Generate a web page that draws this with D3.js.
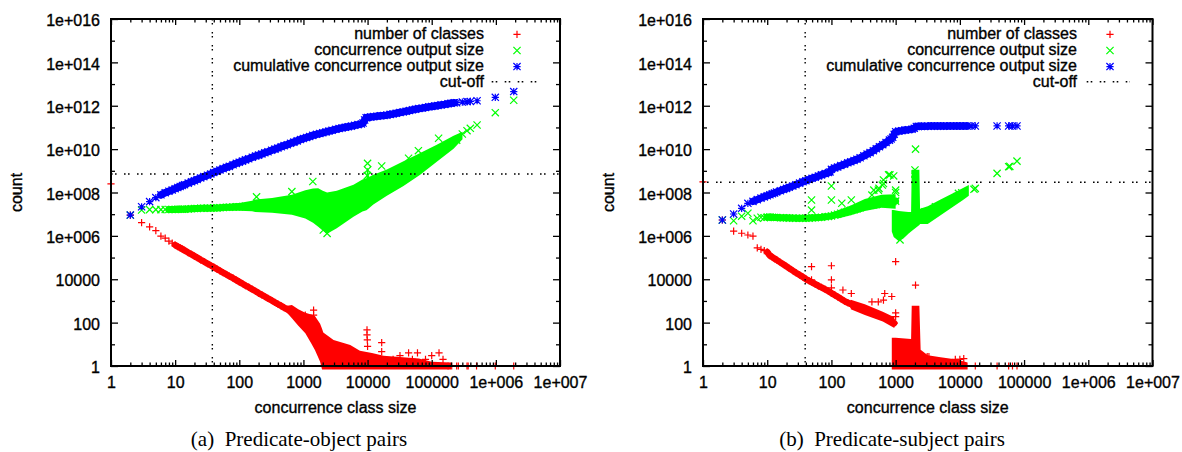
<!DOCTYPE html>
<html>
<head>
<meta charset="utf-8">
<script src="https://cdn.jsdelivr.net/npm/d3@7"></script>
<style>
  html, body { margin: 0; padding: 0; background: #fff; }
  svg { display: block; }
  .sans { font-family: 'Liberation Sans', Arial, Helvetica, sans-serif; font-size: 16px; fill: #000; stroke: #000; stroke-width: 0.35px; }
</style>
</head>
<body>
<svg id="chart" width="1182" height="452"></svg>
<script>
// ---------------- axis ticks ----------------
const xTickValues = [1, 10, 100, 1000, 10000, 100000, 1e6, 1e7];
const xTickLabels = ["1", "10", "100", "1000", "10000", "100000", "1e+006", "1e+007"];
const yTickValues = [1, 100, 1e4, 1e6, 1e8, 1e10, 1e12, 1e14, 1e16];
const yTickLabels = ["1", "100", "10000", "1e+006", "1e+008", "1e+010", "1e+012", "1e+014", "1e+016"];
const yMinorValues = [10, 1e3, 1e5, 1e7, 1e9, 1e11, 1e13, 1e15];
const legendLabels = ["number of classes", "concurrence output size", "cumulative concurrence output size", "cut-off"];

// ---------------- (a) predicate-object pairs ----------------
const aCutX = 38, aCutY = 7.1e8;

// number of classes per class size [size, count]: main sequence, then scattered sizes
const aClasses = [
  [1,2.5e8],[2,9e6],[3,4.1e6],[4,2.6e6],[5,1.74e6],[6,9.8e5],[7,7.8e5],[8,5.75e5],[9,4.6e5],[10,3.8e5],
  [11,3.2e5],[12,2.8e5],[13,2.45e5],[14,2.15e5],[16,1.7e5],[18,1.4e5],[20,1.17e5],[22,1e5],[25,7.9e4],[28,6.6e4],
  [32,5.2e4],[36,4.3e4],[40,3.6e4],[45,2.95e4],[50,2.45e4],[56,2e4],[63,1.66e4],[70,1.38e4],[80,1.12e4],[90,9.1e3],
  [100,7.6e3],[112,6.3e3],[125,5.1e3],[140,4.3e3],[160,3.4e3],[180,2.8e3],[200,2.3e3],[225,1.9e3],[250,1.6e3],[280,1.3e3],
  [320,1050],[360,850],[400,720],[450,590],[500,490],[560,410],[630,330],[710,270],[800,220],[900,180],[1000,150]
];
const aClassesScatter = [
  [640,380],[690,270],[1070,220],[1440,380],[1440,220],[1450,110],[1500,65],
  [9800,46],[9800,27],[9900,16],[10000,8],[16600,12],[16600,4.6],
  [25000,2],[32000,3],[43600,4],[50000,2],[60000,4],[80000,2],[100000,3],[130000,4],[150000,2],[180000,1],
  [2.05e5,1],[2.45e5,1],[2.6e5,1],[3.55e5,1],[3.7e5,1],[5e5,1],[9.8e5,1],[1.9e6,1]
];
// dense part of the class counts [size, low, high]
const aClassesCloud = [
  [560,280,600],[661,158,646],[832,71,417],[1070,32,288],[1320,11.2,240],[1510,5.5,200],[1820,1.58,89],
  [1950,0.69,52],[2040,0.69,35.5],[2950,0.69,15.8],[5370,0.69,9.3],[7590,0.69,5],[11700,0.69,4],
  [17800,0.69,3],[31600,0.69,2.6],[63100,0.69,2.2],[100000,0.69,1.58],[200000,0.69,1.45]
];

// concurrence output size [size, output]
const aOutput = [
  [2,9.1e6],[3,1.55e7],[4,1.62e7],[5,1.62e7],[6,1.62e7],[7,1.66e7],[8,1.66e7],[9,1.66e7],[10,1.66e7],
  [11,1.7e7],[12,1.7e7],[13,1.7e7],[14,1.7e7],[16,1.74e7],[18,1.78e7],[20,1.82e7],[22,1.82e7],[25,1.86e7],[28,1.86e7],
  [32,1.9e7],[36,1.9e7],[40,1.95e7],[45,1.95e7],[50,2e7],[56,2.04e7],[63,2.09e7],[70,2.09e7],[80,2.14e7],[90,2.19e7],
  [100,2.19e7],[112,2.24e7],[125,2.29e7],[140,2.34e7],[160,2.4e7],[180,2.45e7],[200,2.5e7],[250,2.6e7],[320,2.7e7],
  [400,2.75e7],[500,2.75e7],[630,2.7e7],[800,2.6e7],[1000,2.5e7]
];
const aOutputScatter = [
  [186,6.3e7],[660,1.1e8],[1400,3.2e8],[2040,1.86e6],[2340,1.3e6],
  [9900,6e8],[10000,1.1e9],[10000,2.2e9],[16600,1.66e9],[43600,3.8e9],[62000,8.5e9],[128000,3.16e10],
  [2.45e5,2.6e10],[3.0e5,5e10],[3.55e5,7.1e10],[4.0e5,9.1e10],[5.1e5,1.3e11],[9.8e5,4.8e11],[1.9e6,1.8e12]
];
// dense part of the output sizes [size, low, high]
const aOutputCloud = [
  [63,1.48e7,2.82e7],[100,1.45e7,3.31e7],[158,1.38e7,4.17e7],[178,1.26e7,4.79e7],[324,1.17e7,5.62e7],
  [661,9.3e6,7.94e7],[1070,6.31e6,1.26e8],[1410,3.98e6,1.51e8],[1700,2.63e6,1.58e8],[2000,1.78e6,1.2e8],
  [2340,1.26e6,1e8],[3310,2.24e6,1.2e8],[6030,7.59e6,2.29e8],[8320,1.32e7,3.98e8],[9600,1.5e7,4.6e8],
  [9800,1.6e7,1.3e9],[10200,1.75e7,1.3e9],[10500,1.9e7,5.2e8],[12300,2.82e7,6.61e8],[20000,7.08e7,1.15e9],
  [36300,2e8,2.75e9],[66100,6.61e8,6.61e9],[120000,2.63e9,1.58e10],[219000,1.05e10,4.17e10],[302000,2.82e10,6.31e10]
];

// cumulative concurrence output size [size, total]
const aCumulative = [
  [2,9.1e6],[3,2.2e7],[4,3.8e7],[5,5.8e7],[6,7.8e7],[7,9.8e7],[8,1.15e8],[9,1.3e8],[10,1.5e8],[11,1.7e8],
  [12,1.9e8],[13,2.1e8],[14,2.3e8],[16,2.7e8],[18,3.1e8],[20,3.5e8],[22,4e8],[25,4.7e8],[28,5.4e8],[32,6.3e8],
  [36,7.2e8],[40,8.3e8],[45,9.6e8],[50,1.1e9],[56,1.26e9],[63,1.45e9],[70,1.6e9],[80,1.9e9],[90,2.2e9],[100,2.5e9],
  [112,2.8e9],[125,3.2e9],[140,3.6e9],[160,4.2e9],[180,4.8e9],[200,5.3e9],[225,6e9],[250,6.8e9],[280,7.6e9],[320,8.9e9],
  [360,1e10],[400,1.12e10],[450,1.29e10],[500,1.45e10],[560,1.6e10],[630,1.85e10],[710,2.1e10],[800,2.4e10],[900,2.75e10],
  [1000,3.1e10],[1120,3.45e10],[1250,3.8e10],[1400,4.3e10],[1600,4.8e10],[1800,5.2e10],[2000,5.7e10],[2250,6.2e10],
  [2500,6.8e10],[2800,7.4e10],[3200,8.2e10],[3600,8.9e10],[4000,9.5e10],[4500,1.02e11],[5000,1.08e11],[5600,1.15e11],
  [6300,1.25e11],[7100,1.35e11],[8000,1.45e11],[8500,1.6e11],[9000,2.2e11],[9500,2.8e11],[10000,2.9e11],[11200,3e11],
  [12500,3.15e11],[14000,3.3e11],[16000,3.45e11],[18000,3.55e11],[20000,3.7e11],[22500,4e11],[25000,4.2e11],
  [28000,4.5e11],[32000,4.9e11],[36000,5.2e11],[40000,5.6e11],[45000,6e11],[50000,6.5e11],[56000,6.9e11],
  [63000,7.4e11],[71000,7.8e11],[80000,8.3e11],[90000,8.9e11],[100000,9.3e11],[112000,9.8e11],[125000,1.02e12],
  [140000,1.1e12],[160000,1.15e12],[180000,1.23e12],[200000,1.3e12],[225000,1.38e12]
];
const aCumulativeScatter = [
  [245000,1.38e12],[300000,1.48e12],[355000,1.55e12],[400000,1.58e12],[510000,1.7e12],[980000,2.45e12],[1.9e6,4.5e12]
];

// ---------------- (b) predicate-subject pairs ----------------
const bCutX = 39, bCutY = 2.95e8;

const bClasses = [
  [1,3.1e8],[2,5.4e6],[3,1.66e6],[4,1.32e6],[5,1.1e6],[6,9.8e5],[7,2.8e5],[8,2.4e5],[9,2.1e5],[10,1.8e5],
  [11,1.23e5],[12,1.05e5],[13,8.9e4],[14,7.8e4],[16,6e4],[18,4.8e4],[20,3.9e4],[22,3.2e4],[25,2.5e4],[28,2e4],
  [32,1.58e4],[36,1.26e4],[40,1.02e4],[45,8.5e3],[50,7.1e3],[56,5.9e3],[63,4.9e3],[70,4.2e3],[80,3.4e3],[90,2.8e3],
  [100,2.3e3],[112,1.9e3],[125,1.55e3],[140,1.26e3],[160,980],[180,830],[200,720],[225,620],[250,525],[280,457],
  [320,390],[360,340],[400,300],[450,263],[500,234],[560,209],[630,186],[710,155],[800,129],[900,107],[950,95]
];
const bClassesScatter = [
  [49,3.8e4],[49,9.3e3],[100,4.2e4],[100,9.3e3],[100,4e3],[151,3.2e3],[204,2.2e3],[427,910],[537,910],
  [646,1100],[676,2200],[870,1600],[1000,6.5e4],[1000,280],[1000,190],[2040,5.4e3],
  [3100,2.7],[3300,2.7],[8500,2],[10000,2],[11500,2.2],[17400,1],[38000,1],[57500,1],[66000,1],[77600,1]
];
const bClassesTail = [[200,417,1120],[331,224,708],[631,112,316],[955,56,178]];
const bClassesBlob = [
  [871,0.69,20],[1000,0.69,20],[1740,0.69,17.8],[1780,0.69,603],[2340,0.69,603],[2450,0.69,5.6],
  [3160,0.69,3.16],[5010,0.69,2.51],[8910,0.69,2],[13200,0.69,1.45]
];

const bOutput = [
  [2,5.4e6],[3,5e6],[4,8.1e6],[5,1.1e7],[6,5e6],[7,6.5e6],[8,7.2e6],[9,6.9e6],[10,7.2e6],[11,7.4e6],
  [12,7.2e6],[13,7.1e6],[14,7.1e6],[16,6.9e6],[18,6.8e6],[20,6.8e6],[22,6.6e6],[25,6.6e6],[28,6.5e6],[32,6.5e6],
  [36,6.5e6],[40,6.5e6],[45,6.6e6],[50,6.8e6],[56,6.9e6],[63,7.1e6],[70,7.2e6],[80,7.6e6],[90,7.9e6],[100,8.3e6],
  [112,9.1e6],[125,1e7],[140,1.1e7],[160,1.23e7],[180,1.35e7],[200,1.48e7],[225,1.62e7],[250,1.78e7],[280,2e7],
  [320,2.3e7],[360,2.5e7],[400,2.6e7],[450,2.7e7],[500,2.8e7],[560,3.1e7],[630,3.3e7],[710,3.55e7],[800,3.7e7],
  [900,3.8e7],[1000,4e7]
];
const bOutputScatter = [
  [49,4.5e7],[49,1.55e7],[100,4.5e7],[100,2e8],[145,3.2e7],[204,4.5e7],[427,7.6e7],[457,1.29e8],[537,1.29e8],
  [550,1.55e8],[620,2.2e8],[646,2.6e8],[646,3.8e8],[776,6.5e8],[813,6.5e8],[933,5.8e8],[1000,1.29e8],[1000,1e8],
  [1170,6.5e5],[2000,4e8],[2000,7e8],[2000,1.1e9],[2040,1e10],[2880,1.29e7],[4170,2.2e7],[9100,6.5e7],
  [9500,9.1e7],[10700,9.8e7],[16600,1.4e8],[17400,1.55e8],[38000,7.6e8],[57500,1.55e9],[60000,1.6e9],[77600,2.8e9]
];
const bOutputBand = [[126,6.3e6,1.51e7],[200,8.9e6,2.5e7],[331,1.41e7,5e7],[603,2e7,7.9e7],[1000,1.78e7,8.3e7]];
const bOutputBlob = [
  [871,1.58e6,1.58e7],[933,8.9e5,1.58e7],[1120,5.6e5,1.41e7],[1320,7.6e5,1.32e7],[1580,1.26e6,1.26e7],
  [1740,1.58e6,1.26e7],[1780,1.66e6,1.12e9],[2340,3.16e6,1.12e9],[2400,3.55e6,1.78e7],[3160,3.55e6,2.3e7],
  [5010,8.9e6,4.7e7],[7940,2.24e7,9.5e7],[11200,4.5e7,1.62e8],[13800,7.1e7,2.2e8]
];

const bCumulative = [
  [2,5.4e6],[3,1.02e7],[4,1.86e7],[5,3.16e7],[6,3.9e7],[7,4.7e7],[8,5.5e7],[9,6.3e7],[10,7.1e7],[11,7.9e7],
  [12,8.7e7],[13,9.5e7],[14,1.05e8],[16,1.2e8],[18,1.38e8],[20,1.55e8],[22,1.74e8],[25,2e8],[28,2.3e8],[32,2.7e8],
  [36,3.1e8],[40,3.5e8],[45,4e8],[50,4.5e8],[56,5e8],[63,5.8e8],[70,6.5e8],[80,7.4e8],[90,8.3e8],[95,8.9e8],
  [100,1.17e9],[112,1.35e9],[125,1.5e9],[140,1.74e9],[160,2e9],[180,2.34e9],[200,2.6e9],[225,3e9],[250,3.4e9],
  [280,4e9],[320,4.9e9],[360,5.9e9],[400,6.9e9],[450,8.5e9],[500,1.05e10],[560,1.3e10],[630,1.6e10],[710,2e10],
  [800,2.6e10],[850,2.95e10],[900,3.5e10],[950,4.8e10],[1000,6.3e10],[1120,6.8e10],[1250,7.1e10],[1400,7.6e10],
  [1600,7.9e10],[1800,8.3e10],[1950,9.1e10],[2100,1.1e11],[2250,1.12e11],[2500,1.12e11],[2800,1.12e11],
  [3200,1.15e11],[3600,1.15e11],[4000,1.15e11],[4500,1.15e11],[5000,1.15e11],[5600,1.15e11],[6300,1.17e11],
  [7100,1.17e11],[8000,1.17e11],[9000,1.17e11],[10000,1.17e11],[11200,1.17e11],[12900,1.17e11]
];
const bCumulativeScatter = [[15000,1.17e11],[17400,1.17e11],[38000,1.17e11],[57500,1.17e11],[66000,1.17e11],[77600,1.17e11]];

// ---------------- drawing ----------------
const RED = "#ff0000", GREEN = "#00ff00", BLUE = "#0000ff";
const SERIF = "'Liberation Serif', 'Times New Roman', serif";
const plotTop = 19, plotBottom = 366;
const H = 3.6; // marker half-size

const symbols = {
  plus:  h => `M${-h},0H${h}M0,${-h}V${h}`,
  cross: h => `M${-h},${-h}L${h},${h}M${-h},${h}L${h},${-h}`,
  star:  h => `M${-h},0H${h}M0,${-h}V${h}M${-h},${-h}L${h},${h}M${-h},${h}L${h},${-h}`
};

const svg = d3.select("#chart");
svg.append("rect").attr("width", 1182).attr("height", 452).attr("fill", "#fff");

const panels = [
  { left: 111, right: 560,
    classes: aClasses, classesScatter: aClassesScatter, classClouds: [aClassesCloud],
    output: aOutput, outputScatter: aOutputScatter, outputClouds: [aOutputCloud],
    cumulative: aCumulative, cumulativeScatter: aCumulativeScatter,
    bandFrom: { classes: 10, output: 8, cumulative: 6 },
    cutX: aCutX, cutY: aCutY, caption: "(a)\u00a0 Predicate-object pairs", captionX: 299,
    legendTextX: 484, legendSymX: 517, legendLine: [491.7, 538.3], countX: 21.5 },
  { left: 703, right: 1152.5,
    classes: bClasses, classesScatter: bClassesScatter, classClouds: [bClassesTail, bClassesBlob],
    output: bOutput, outputScatter: bOutputScatter, outputClouds: [bOutputBand, bOutputBlob],
    cumulative: bCumulative, cumulativeScatter: bCumulativeScatter,
    bandFrom: { classes: 10, output: 10, cumulative: 6 },
    cutX: bCutX, cutY: bCutY, caption: "(b)\u00a0 Predicate-subject pairs", captionX: 892,
    legendTextX: 1077, legendSymX: 1110, legendLine: [1086.7, 1130], countX: 614 }
];

function styleAxis(g, withText) {
  g.select(".domain").remove();
  g.attr("font-size", null).attr("font-family", null);
  g.selectAll(".tick line").attr("stroke", "#000").attr("stroke-width", 1.3);
  if (withText) g.selectAll(".tick text").attr("class", "sans").attr("fill", null);
}

function drawPanel(p) {
  const g = svg.append("g");
  const x = d3.scaleLog().domain([1, 1e7]).range([p.left, p.right]);
  const y = d3.scaleLog().domain([1, 1e16]).range([plotBottom, plotTop]);

  const area = d3.area().x(d => x(d[0])).y0(d => y(d[1])).y1(d => y(d[2]));
  const line = d3.line().x(d => x(d[0])).y(d => y(d[1]));

  // a dense run of markers reads as one solid band
  const drawBand = (data, from, color, width) => {
    g.append("path").datum(data.filter(d => d[0] >= from)).attr("d", line)
      .attr("fill", "none").attr("stroke", color).attr("stroke-width", width)
      .attr("stroke-linejoin", "round").attr("stroke-linecap", "round");
  };
  const drawPoints = (data, color, shape) => {
    g.append("g").selectAll("path").data(data).join("path")
      .attr("transform", d => `translate(${x(d[0])},${y(d[1])})`)
      .attr("d", symbols[shape](H))
      .attr("fill", "none").attr("stroke", color).attr("stroke-width", 1.2);
  };

  // number of classes
  p.classClouds.forEach(c => g.append("path").datum(c).attr("d", area).attr("fill", RED));
  drawBand(p.classes, p.bandFrom.classes, RED, 6.5);
  drawPoints(p.classes, RED, "plus");
  drawPoints(p.classesScatter, RED, "plus");
  // concurrence output size
  p.outputClouds.forEach(c => g.append("path").datum(c).attr("d", area).attr("fill", GREEN));
  drawBand(p.output, p.bandFrom.output, GREEN, 7);
  drawPoints(p.output, GREEN, "cross");
  drawPoints(p.outputScatter, GREEN, "cross");
  // cumulative output size
  drawBand(p.cumulative, p.bandFrom.cumulative, BLUE, 7.5);
  drawPoints(p.cumulative, BLUE, "star");
  drawPoints(p.cumulativeScatter, BLUE, "star");

  // cut-off lines
  const dash = "1.6,2.4,1.6,7.4";
  g.append("line").attr("x1", x(p.cutX)).attr("x2", x(p.cutX)).attr("y1", plotTop).attr("y2", plotBottom)
    .attr("stroke", "#000").attr("stroke-width", 1.4).attr("stroke-dasharray", dash);
  g.append("line").attr("x1", p.left).attr("x2", p.right).attr("y1", y(p.cutY)).attr("y2", y(p.cutY))
    .attr("stroke", "#000").attr("stroke-width", 1.4).attr("stroke-dasharray", dash);

  // axes (ticks point inwards, mirrored on all four sides)
  const xMinor = [];
  for (let e = 0; e < 7; e++) for (let k = 2; k <= 9; k++) xMinor.push(k * Math.pow(10, e));

  g.append("g").attr("transform", `translate(0,${plotBottom})`)
    .call(d3.axisBottom(x).tickValues(xTickValues).tickFormat((d, i) => xTickLabels[i]).tickSizeInner(-6).tickSizeOuter(0).tickPadding(11))
    .call(a => styleAxis(a, true));
  g.append("g").attr("transform", `translate(0,${plotBottom})`)
    .call(d3.axisBottom(x).tickValues(xMinor).tickFormat(() => "").tickSizeInner(-3.5).tickSizeOuter(0))
    .call(a => styleAxis(a, false));
  g.append("g").attr("transform", `translate(0,${plotTop})`)
    .call(d3.axisTop(x).tickValues(xTickValues).tickFormat(() => "").tickSizeInner(-6).tickSizeOuter(0))
    .call(a => styleAxis(a, false));
  g.append("g").attr("transform", `translate(0,${plotTop})`)
    .call(d3.axisTop(x).tickValues(xMinor).tickFormat(() => "").tickSizeInner(-3.5).tickSizeOuter(0))
    .call(a => styleAxis(a, false));

  g.append("g").attr("transform", `translate(${p.left},0)`)
    .call(d3.axisLeft(y).tickValues(yTickValues).tickFormat((d, i) => yTickLabels[i]).tickSizeInner(-7).tickSizeOuter(0).tickPadding(11))
    .call(a => styleAxis(a, true))
    .call(a => a.selectAll(".tick text").attr("dy", "0.42em"));
  g.append("g").attr("transform", `translate(${p.left},0)`)
    .call(d3.axisLeft(y).tickValues(yMinorValues).tickFormat(() => "").tickSizeInner(-4).tickSizeOuter(0))
    .call(a => styleAxis(a, false));
  g.append("g").attr("transform", `translate(${p.right},0)`)
    .call(d3.axisRight(y).tickValues(yTickValues).tickFormat(() => "").tickSizeInner(-7).tickSizeOuter(0))
    .call(a => styleAxis(a, false));
  g.append("g").attr("transform", `translate(${p.right},0)`)
    .call(d3.axisRight(y).tickValues(yMinorValues).tickFormat(() => "").tickSizeInner(-4).tickSizeOuter(0))
    .call(a => styleAxis(a, false));

  // frame
  g.append("rect").attr("x", p.left).attr("y", plotTop)
    .attr("width", p.right - p.left).attr("height", plotBottom - plotTop)
    .attr("fill", "none").attr("stroke", "#000").attr("stroke-width", 2);

  // axis titles
  g.append("text").attr("class", "sans").attr("x", (p.left + p.right) / 2).attr("y", 412.5)
    .attr("text-anchor", "middle").text("concurrence class size");
  g.append("text").attr("class", "sans")
    .attr("transform", `translate(${p.countX},${(plotTop + plotBottom) / 2}) rotate(-90)`)
    .attr("text-anchor", "middle").text("count");

  // legend
  const rows = [39, 55.1, 71.2, 87.3];
  const shapes = [["plus", RED], ["cross", GREEN], ["star", BLUE]];
  legendLabels.forEach((label, i) => {
    g.append("text").attr("class", "sans").attr("x", p.legendTextX).attr("y", rows[i])
      .attr("text-anchor", "end").text(label);
    if (i < 3) {
      g.append("path").attr("transform", `translate(${p.legendSymX},${rows[i] - 4.6})`)
        .attr("d", symbols[shapes[i][0]](H)).attr("fill", "none")
        .attr("stroke", shapes[i][1]).attr("stroke-width", 1.2);
    } else {
      g.append("line").attr("x1", p.legendLine[0]).attr("x2", p.legendLine[1])
        .attr("y1", rows[i] - 5.5).attr("y2", rows[i] - 5.5)
        .attr("stroke", "#000").attr("stroke-width", 1.4).attr("stroke-dasharray", dash);
    }
  });

  // caption
  g.append("text").attr("x", p.captionX).attr("y", 446).attr("text-anchor", "middle")
    .attr("font-family", SERIF).attr("font-size", 21).attr("fill", "#000")
    .text(p.caption);
}

panels.forEach(drawPanel);
</script>
</body>
</html>
